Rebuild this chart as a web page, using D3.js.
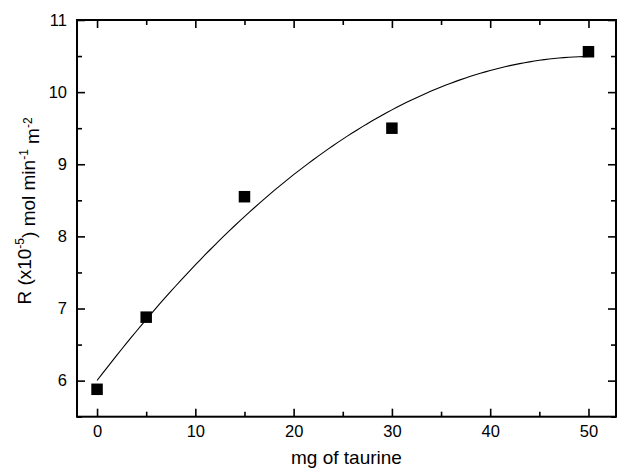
<!DOCTYPE html>
<html>
<head>
<meta charset="utf-8">
<script src="https://cdn.jsdelivr.net/npm/d3@7"></script>
<style>
  html, body { margin: 0; padding: 0; background: #fff; }
  svg { display: block; font-family: "Liberation Sans", Arial, sans-serif; }
</style>
</head>
<body>
<svg id="chart" width="617" height="468"></svg>
<script>
// ---- data ----
const taurine = [0, 5, 15, 30, 50];            // mg of taurine
const rate = [5.88, 6.88, 8.55, 9.50, 10.56];    // R (x10^-5) mol min^-1 m^-2
const xMajorTicks = [0, 10, 20, 30, 40, 50];
const xMinorTicks = [5, 15, 25, 35, 45];
const yMajorTicks = [6, 7, 8, 9, 10, 11];
const yMinorTicks = [5.5, 6.5, 7.5, 8.5, 9.5, 10.5];
const xTitle = "mg of taurine";

(function () {
// ---- layout ----
const W = 617, H = 468;
const pL = 77, pR = 616, pT = 20, pB = 416.7;

const svg = d3.select("#chart");

const x = d3.scaleLinear().domain([-2.04, 52.8]).range([pL, pR]);
const y = d3.scaleLinear().domain([5.5, 11]).range([pB, pT]);

// quadratic least-squares fit of the data (polynomial fit line)
function polyfit2(xs, ys) {
  let S = [0,0,0,0,0], T = [0,0,0];
  xs.forEach((xi, i) => {
    for (let k = 0; k < 5; k++) S[k] += Math.pow(xi, k);
    for (let k = 0; k < 3; k++) T[k] += Math.pow(xi, k) * ys[i];
  });
  const A = [[S[0],S[1],S[2],T[0]],[S[1],S[2],S[3],T[1]],[S[2],S[3],S[4],T[2]]];
  for (let c = 0; c < 3; c++) {
    for (let r = c + 1; r < 3; r++) {
      const f = A[r][c] / A[c][c];
      for (let k = c; k < 4; k++) A[r][k] -= f * A[c][k];
    }
  }
  const sol = [0,0,0];
  for (let r = 2; r >= 0; r--) {
    let s = A[r][3];
    for (let k = r + 1; k < 3; k++) s -= A[r][k] * sol[k];
    sol[r] = s / A[r][r];
  }
  return sol;
}
const coef = polyfit2(taurine, rate);
const fitX = d3.range(0, 50.001, 0.5);
const fitPts = fitX.map(v => [v, coef[0] + coef[1]*v + coef[2]*v*v]);

// ---- axes ----
const tickFont = 16.5;
function styleAxis(g) {
  g.select(".domain").remove();
  g.selectAll(".tick line").attr("stroke", "#000").attr("stroke-width", 1.6);
  g.selectAll(".tick text").attr("fill", "#000").style("font-size", tickFont + "px")
   .style("font-family", '"Liberation Sans", Arial, sans-serif');
}

// bottom
svg.append("g").attr("transform", `translate(0,${pB})`)
  .call(d3.axisBottom(x).tickValues(xMajorTicks).tickSize(-8).tickPadding(9).tickFormat(d3.format("d")))
  .call(styleAxis);
svg.append("g").attr("transform", `translate(0,${pB})`)
  .call(d3.axisBottom(x).tickValues(xMinorTicks).tickSize(-5).tickFormat(""))
  .call(styleAxis);
// top
svg.append("g").attr("transform", `translate(0,${pT})`)
  .call(d3.axisTop(x).tickValues(xMajorTicks).tickSize(-8).tickFormat(""))
  .call(styleAxis);
svg.append("g").attr("transform", `translate(0,${pT})`)
  .call(d3.axisTop(x).tickValues(xMinorTicks).tickSize(-5).tickFormat(""))
  .call(styleAxis);
// left
svg.append("g").attr("transform", `translate(${pL},0)`)
  .call(d3.axisLeft(y).tickValues(yMajorTicks).tickSize(-8).tickPadding(10).tickFormat(d3.format("d")))
  .call(styleAxis);
svg.append("g").attr("transform", `translate(${pL},0)`)
  .call(d3.axisLeft(y).tickValues(yMinorTicks).tickSize(-5).tickFormat(""))
  .call(styleAxis);
// right
svg.append("g").attr("transform", `translate(${pR},0)`)
  .call(d3.axisRight(y).tickValues(yMajorTicks).tickSize(-8).tickFormat(""))
  .call(styleAxis);
svg.append("g").attr("transform", `translate(${pR},0)`)
  .call(d3.axisRight(y).tickValues(yMinorTicks).tickSize(-5).tickFormat(""))
  .call(styleAxis);

// frame
svg.append("rect")
  .attr("x", pL).attr("y", pT)
  .attr("width", pR - pL).attr("height", pB - pT)
  .attr("fill", "none").attr("stroke", "#000").attr("stroke-width", 2);

// fit line
svg.append("path")
  .datum(fitPts)
  .attr("fill", "none").attr("stroke", "#000").attr("stroke-width", 1.1)
  .attr("d", d3.line().x(d => x(d[0])).y(d => y(d[1])));

// points
const sq = 11.5;
svg.append("g").selectAll("rect")
  .data(taurine.map((t, i) => [t, rate[i]]))
  .join("rect")
  .attr("x", d => x(d[0]) - sq/2).attr("y", d => y(d[1]) - sq/2)
  .attr("width", sq).attr("height", sq).attr("fill", "#000");

// x title
svg.append("text")
  .attr("x", (pL + pR) / 2).attr("y", 464)
  .attr("text-anchor", "middle")
  .style("font-size", "19px").attr("fill", "#000")
  .text(xTitle);

// y title with superscripts
const yt = svg.append("text")
  .attr("transform", `translate(31,${211}) rotate(-90)`)
  .attr("text-anchor", "middle")
  .style("font-size", "19px").attr("fill", "#000");
const parts = [
  ["R (x10", false], ["-5", true], [") mol min", false], ["-1", true], [" m", false], ["-2", true]
];
parts.forEach(([t, sup]) => {
  yt.append("tspan")
    .attr("dy", sup ? "-0.55em" : (t === "R (x10" ? "0" : "0.55em"))
    .style("font-size", sup ? "12px" : "19px")
    .text(t);
});
})();
</script>
</body>
</html>
